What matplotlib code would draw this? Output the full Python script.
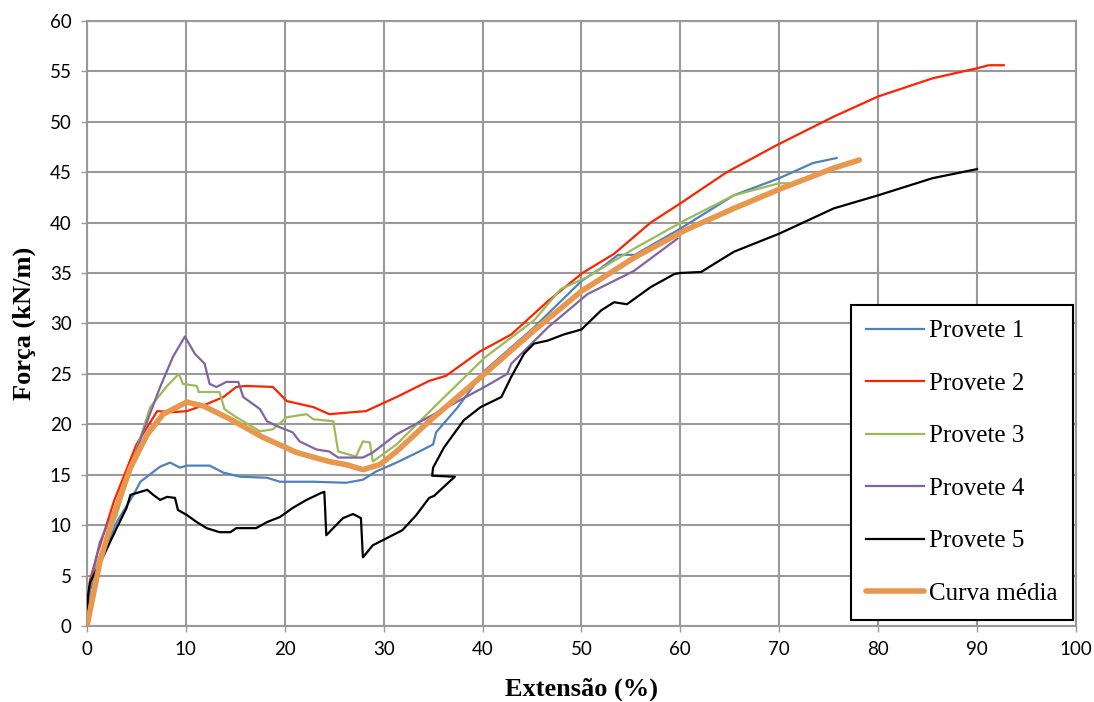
import matplotlib
matplotlib.use("Agg")
import matplotlib.pyplot as plt

# Ensaios de tração - força vs extensão por provete
p1_x = [0, 0.3, 1.3, 3.0, 4.7, 5.4, 7.4, 8.4, 9.4, 10.1, 12.4, 13.8, 15.5, 18.2, 19.5, 22.9,
        26.2, 27.9, 29.2, 31.3, 33.6, 35.0, 35.3, 37.5, 40.2, 45.2, 50.0, 52.0, 53.7, 55.4,
        60.0, 65.4, 70.0, 73.4, 75.8]
p1_y = [0.5, 3.5, 6.3, 10.3, 13.0, 14.3, 15.8, 16.2, 15.7, 15.9, 15.9, 15.2, 14.8, 14.7, 14.3, 14.3,
        14.2, 14.5, 15.3, 16.2, 17.3, 18.0, 19.2, 21.7, 25.3, 29.6, 34.2, 35.5, 36.8, 36.8,
        39.4, 42.7, 44.4, 45.9, 46.4]

p2_x = [0, 0.3, 1.0, 2.7, 5.0, 7.1, 8.7, 10.1, 12.1, 13.8, 15.1, 16.1, 18.8, 20.2, 22.9, 24.5,
        26.9, 28.2, 31.3, 34.6, 36.3, 39.7, 42.9, 46.6, 50.1, 53.3, 57.0, 60.0, 64.7, 69.8,
        75.5, 80.0, 85.5, 90.0, 91.2, 92.7]
p2_y = [1.0, 4.5, 7.0, 12.3, 18.0, 21.3, 21.2, 21.3, 22.0, 22.7, 23.7, 23.8, 23.7, 22.3, 21.7, 21.0,
        21.2, 21.3, 22.7, 24.3, 24.8, 27.2, 28.9, 32.2, 35.0, 36.9, 40.0, 41.9, 45.0, 47.7,
        50.5, 52.5, 54.3, 55.3, 55.6, 55.6]

p3_x = [0, 0.3, 1.3, 3.0, 5.0, 6.4, 8.1, 9.3, 9.7, 11.1, 11.3, 13.4, 13.9, 15.1, 17.5, 18.8,
        20.2, 22.2, 22.9, 24.9, 25.4, 27.2, 27.9, 28.6, 28.9, 31.3, 35.1, 40.2, 45.2, 47.9,
        50.6, 55.3, 60.4, 65.4, 70.0, 71.0]
p3_y = [0.5, 4.0, 7.0, 11.0, 17.5, 21.7, 23.8, 25.0, 24.0, 23.8, 23.2, 23.2, 21.5, 20.7, 19.3, 19.5,
        20.7, 21.0, 20.5, 20.3, 17.3, 16.8, 18.3, 18.2, 16.3, 18.0, 21.7, 26.6, 30.3, 33.4,
        34.6, 37.4, 40.2, 42.7, 43.9, 43.9]

p4_x = [0, 0.3, 1.3, 3.4, 5.7, 7.4, 8.7, 9.9, 10.9, 11.9, 12.4, 13.1, 14.1, 15.3, 15.8, 17.5,
        18.2, 19.5, 20.8, 21.5, 23.2, 24.5, 25.4, 27.9, 28.9, 31.3, 35.1, 40.2, 42.5, 42.9,
        46.6, 50.6, 55.3, 59.7]
p4_y = [0.5, 4.0, 8.3, 13.0, 19.3, 23.7, 26.7, 28.7, 27.0, 26.0, 24.0, 23.7, 24.2, 24.2, 22.7, 21.5,
        20.3, 19.7, 19.2, 18.3, 17.5, 17.3, 16.7, 16.7, 17.2, 19.0, 21.0, 23.7, 25.0, 26.0,
        29.6, 32.9, 35.2, 38.4]

p5_x = [0, 0.1, 0.3, 1.7, 3.0, 4.0, 4.4, 6.1, 6.7, 7.4, 8.1, 8.9, 9.2, 10.1, 11.1, 12.1,
        13.4, 14.5, 15.1, 17.1, 18.2, 19.5, 20.8, 22.2, 23.7, 24.0, 24.2, 24.9, 25.9, 26.9,
        27.7, 27.9, 28.9, 30.3, 31.9, 33.3, 34.6, 35.1, 36.3, 37.2, 34.9, 35.0, 36.1, 38.1,
        39.8, 41.9, 42.9, 44.2, 45.2, 46.6, 48.2, 50.0, 52.0, 53.3, 54.6, 57.0, 59.4, 60.0,
        62.1, 65.4, 70.0, 75.5, 80.0, 85.5, 90.0]
p5_y = [1.0, 3.0, 4.3, 7.0, 9.7, 11.7, 13.0, 13.5, 13.0, 12.5, 12.8, 12.7, 11.5, 11.0, 10.3, 9.7,
        9.3, 9.3, 9.7, 9.7, 10.3, 10.8, 11.7, 12.5, 13.2, 13.3, 9.0, 9.7, 10.7, 11.1,
        10.7, 6.8, 8.0, 8.7, 9.5, 11.0, 12.7, 12.9, 14.0, 14.8, 14.9, 15.7, 17.7, 20.4,
        21.7, 22.7, 24.7, 27.0, 28.0, 28.3, 28.9, 29.4, 31.3, 32.1, 31.9, 33.6, 34.9, 35.0,
        35.1, 37.1, 38.9, 41.4, 42.7, 44.4, 45.3]

media_x = [0, 1.3, 2.7, 4.4, 6.1, 7.7, 10.1, 11.8, 14.5, 17.8, 21.2, 24.5, 26.2, 27.9, 29.6,
           31.3, 34.6, 40.2, 45.2, 50.0, 55.3, 60.4, 65.4, 70.0, 75.5, 78.1]
media_y = [0, 6.3, 11.0, 15.7, 19.0, 21.0, 22.2, 21.8, 20.5, 18.7, 17.2, 16.3, 16.0, 15.5, 16.0,
           17.3, 20.3, 25.0, 29.3, 33.2, 36.5, 39.2, 41.4, 43.3, 45.4, 46.2]

labels = ['Provete 1', 'Provete 2', 'Provete 3', 'Provete 4', 'Provete 5', 'Curva média']
cores = ['#4F81BD', '#FF2200', '#9BBB59', '#8064A2', '#000000', '#E8974C']

fig = plt.figure(figsize=(10.94, 7.02), dpi=100)
ax = fig.add_axes([0.0795, 0.1083, 0.904, 0.862])

series = [(p1_x, p1_y), (p2_x, p2_y), (p3_x, p3_y), (p4_x, p4_y), (p5_x, p5_y)]
for (xs, ys), lab, c in zip(series, labels[:5], cores[:5]):
    ax.plot(xs, ys, color=c, lw=1.6, label=lab, zorder=3)
ax.plot(media_x, media_y, color=cores[5], lw=4, label=labels[5], zorder=4,
        solid_capstyle='round', solid_joinstyle='round')

ax.set_xlim(0, 100)
ax.set_ylim(0, 60)
ax.set_xticks(range(0, 101, 10))
ax.set_yticks(range(0, 61, 5))
ax.grid(True, color='#999999', lw=1.5)
ax.set_axisbelow(True)
for s in ax.spines.values():
    s.set_color('#999999')
    s.set_linewidth(1.5)
ax.tick_params(axis='both', length=4, width=1, color='#999999', labelsize=13.5, pad=7)
for t in ax.get_xticklabels() + ax.get_yticklabels():
    t.set_fontfamily('Lato')

ax.set_xlabel('Extensão (%)', fontfamily='Liberation Serif', fontweight='bold', fontsize=19, labelpad=14)
ax.set_ylabel('Força (kN/m)', fontfamily='Liberation Serif', fontweight='bold', fontsize=19, labelpad=10)

leg = ax.legend(loc='lower right', bbox_to_anchor=(0.997, 0.01), borderaxespad=0,
                prop={'family': 'Liberation Serif', 'size': 18}, fancybox=False,
                handlelength=2.35, labelspacing=1.2, handletextpad=0.2,
                borderpad=0.6)
leg.get_frame().set_edgecolor('black')
leg.get_frame().set_linewidth(1.5)
leg.get_frame().set_alpha(1)

fig.savefig('out.png', dpi=100)
